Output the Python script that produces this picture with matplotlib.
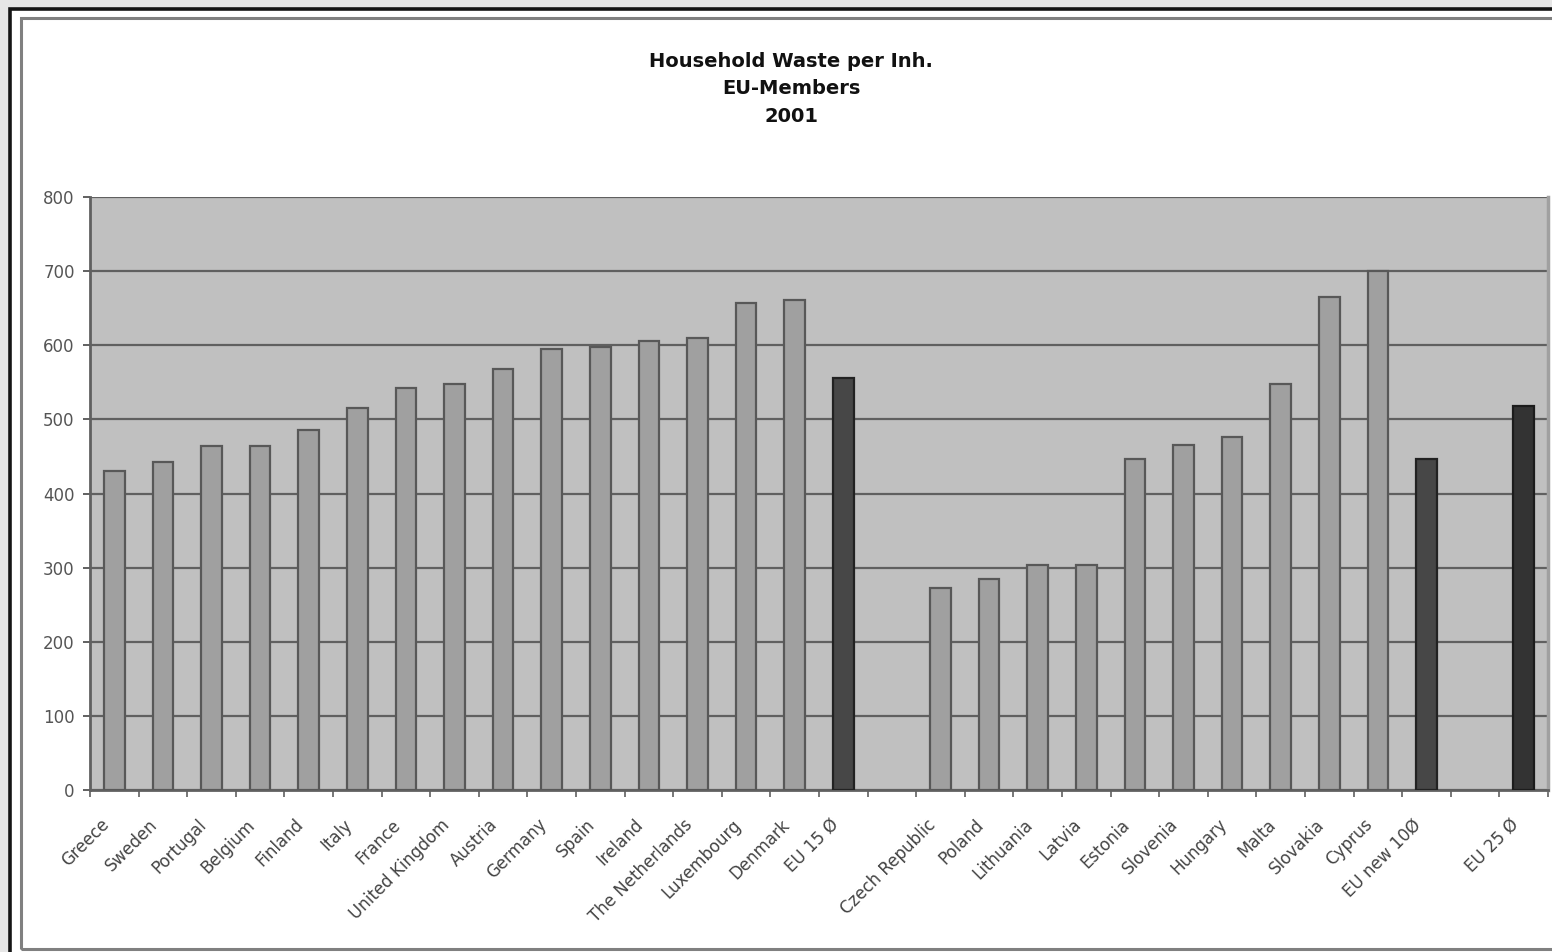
import numpy as np
import matplotlib.pyplot as plt
from matplotlib.patches import Rectangle
from matplotlib.transforms import ScaledTranslation

# data (Household waste per inhabitant, kg, 2001)
old_members = ["Greece", "Sweden", "Portugal", "Belgium", "Finland", "Italy", "France",
               "United Kingdom", "Austria", "Germany", "Spain", "Ireland",
               "The Netherlands", "Luxembourg", "Denmark", "EU 15 Ø"]
old_values = [430, 443, 464, 464, 486, 515, 543, 548, 568, 595, 598, 606, 610, 657, 661, 556]

new_members = ["Czech Republic", "Poland", "Lithuania", "Latvia", "Estonia", "Slovenia",
               "Hungary", "Malta", "Slovakia", "Cyprus", "EU new 10Ø"]
new_values = [273, 285, 303, 303, 446, 466, 476, 548, 665, 700, 446]

total_label = ["EU 25 Ø"]
total_value = [518]

# one empty category between the groups, as in the original sheet
labels = old_members + [""] + new_members + [""] + total_label
values = old_values + [np.nan] + new_values + [np.nan] + total_value

W, H = 1552, 952
plt.rcParams["font.family"] = ["DejaVu Sans"]
fig = plt.figure(figsize=(W / 100, H / 100), dpi=100)
fig.patch.set_facecolor("#e6e6e6")

# chart frame: black outer border, grey inner border
fig.patches.append(Rectangle((10 / W, -0.2), 1.2, 1.2 - 9 / H, transform=fig.transFigure,
                             facecolor="white", edgecolor="#151515", lw=2.6, zorder=0))
fig.patches.append(Rectangle((20.5 / W, 1 - 948.5 / H), 1.2, (948.5 - 17.5) / H,
                             transform=fig.transFigure, facecolor="none",
                             edgecolor="#808080", lw=2.2, zorder=1))

ax = fig.add_axes([90 / W, 1 - 790 / H, (1548 - 90) / W, (790 - 197) / H])
ax.set_zorder(5)
ax.set_facecolor("#c0c0c0")

x = np.arange(len(labels))
face = []
edge = []
for lab in labels:
    if lab == "EU 25 Ø":
        face.append("#333333"); edge.append("#1c1c1c")
    elif "Ø" in lab:
        face.append("#474747"); edge.append("#222222")
    else:
        face.append("#a0a0a0"); edge.append("#585858")

ax.bar(x, values, width=0.42, color=face, edgecolor=edge, linewidth=1.6, zorder=3)

ax.set_xlim(-0.5, len(labels) - 0.5)
ax.set_ylim(0, 800)
ax.set_yticks(range(0, 801, 100))
ax.tick_params(axis="y", direction="out", length=5, width=1.4, color="#606060",
               labelsize=12, labelcolor="#555555", pad=6)
ax.yaxis.grid(True, color="#606060", lw=1.6, zorder=1)
ax.set_axisbelow(True)

ax.set_xticks(np.arange(-0.5, len(labels), 1.0))
ax.set_xticklabels([])
ax.tick_params(axis="x", direction="out", length=5, width=1.2, color="#606060")

ax.spines["top"].set_visible(False)
ax.spines["left"].set_color("#606060")
ax.spines["left"].set_linewidth(2)
ax.spines["bottom"].set_color("#606060")
ax.spines["bottom"].set_linewidth(2)
ax.spines["right"].set_color("#a0a0a0")
ax.spines["right"].set_linewidth(2.5)

# rotated category labels, ending just below each bar
off = ScaledTranslation(-8 / 100, -32 / 100, fig.dpi_scale_trans)
for xi, lab in zip(x, labels):
    if lab:
        ax.text(xi, 0, lab, transform=ax.get_xaxis_transform() + off,
                rotation=45, rotation_mode="anchor", ha="right", va="center",
                fontsize=12, color="#444444")

fig.text(791 / W, 1 - 89 / H, "Household Waste per Inh.\nEU-Members\n2001",
         ha="center", va="center", fontsize=14, fontweight="bold",
         color="#111111", linespacing=1.55)

fig.savefig("out.png", dpi=100, facecolor=fig.get_facecolor())
